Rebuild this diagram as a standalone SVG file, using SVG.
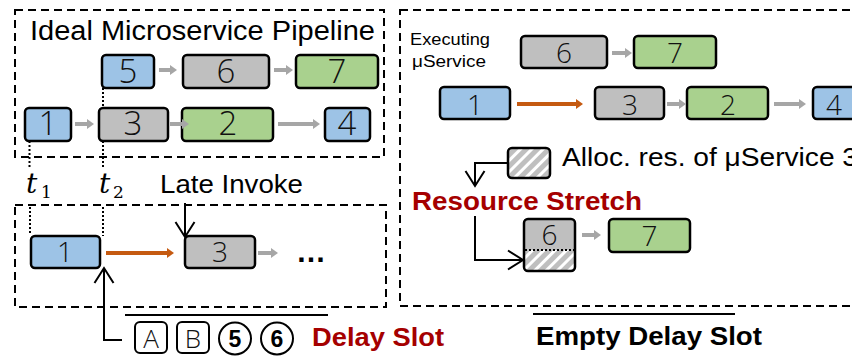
<svg xmlns="http://www.w3.org/2000/svg" width="852" height="358" viewBox="0 0 852 358">
<style>
.dash{fill:none;stroke:#000;stroke-width:2;stroke-dasharray:8 5}
.dot{fill:none;stroke:#000;stroke-width:2;stroke-dasharray:2 2}
.nb{stroke:#000;stroke-width:2.5}
.blue{fill:#9DC3E6}
.gray{fill:#BFBFBF}
.green{fill:#A9D18E}
.num{font-family:"Open Sans","Liberation Sans",sans-serif;font-weight:300;fill:#111;text-anchor:middle}
.n30{font-size:33px}
.n27{font-size:28px}
.ga{stroke:#A6A6A6;stroke-width:4;fill:none;marker-end:url(#gh)}
.oa{stroke:#C55A11;stroke-width:4;fill:none;marker-end:url(#oh)}
.ka{stroke:#000;stroke-width:2;fill:none;marker-end:url(#ch)}
.t{font-family:"Liberation Sans",Arial,sans-serif;fill:#000}
.red{fill:#A50000;font-weight:bold}
.math{font-family:"DejaVu Serif","Liberation Serif",serif;fill:#000}
</style>
<defs>
<marker id="gh" markerUnits="userSpaceOnUse" markerWidth="8" markerHeight="11" refX="0" refY="5" orient="auto" viewBox="0 0 8 10">
<path d="M0,0 L7,5 L0,10 z" fill="#A6A6A6"/>
</marker>
<marker id="oh" markerUnits="userSpaceOnUse" markerWidth="8" markerHeight="11" refX="0" refY="5" orient="auto" viewBox="0 0 8 10">
<path d="M0,0 L7,5 L0,10 z" fill="#C55A11"/>
</marker>
<marker id="ch" markerUnits="userSpaceOnUse" markerWidth="20" markerHeight="24" refX="0" refY="0" orient="auto" viewBox="-17 -12 20 24" style="overflow:visible">
<path d="M-15,-9.5 L0,0 L-15,9.5" fill="none" stroke="#000" stroke-width="2"/>
</marker>
<pattern id="hatch" patternUnits="userSpaceOnUse" width="8" height="8" patternTransform="rotate(45)">
<rect width="8" height="8" fill="#BFBFBF"/>
<rect x="0" y="0" width="3" height="8" fill="#fff"/>
</pattern>
</defs>

<!-- containers -->
<g id="boxes">
<rect class="dash" x="15" y="10" width="369" height="147"/>
<rect class="dash" x="15" y="205" width="371" height="102"/>
<rect class="dash" x="400" y="10" width="480" height="296"/>
</g>

<g id="labels">
<text class="t" x="30" y="40" font-size="27" textLength="345" lengthAdjust="spacingAndGlyphs">Ideal Microservice Pipeline</text>
<text class="t" x="160" y="193" font-size="25" textLength="143" lengthAdjust="spacingAndGlyphs">Late Invoke</text>
<text class="math" x="26" y="193" font-size="28" style="font-style:italic">t</text>
<text class="math" x="41" y="198" font-size="17">1</text>
<text class="math" x="99" y="193" font-size="28" style="font-style:italic">t</text>
<text class="math" x="113" y="198" font-size="17">2</text>
<text class="t" x="410" y="45" font-size="16" textLength="80" lengthAdjust="spacingAndGlyphs">Executing</text>
<text class="t" x="412" y="67" font-size="16" textLength="74" lengthAdjust="spacingAndGlyphs">μService</text>
<text class="t" x="562" y="166" font-size="26" textLength="296" lengthAdjust="spacingAndGlyphs">Alloc. res. of μService 3</text>
<text class="t red" x="412" y="210" font-size="26" textLength="230" lengthAdjust="spacingAndGlyphs">Resource Stretch</text>
<text class="t red" x="312" y="346" font-size="26" textLength="132" lengthAdjust="spacingAndGlyphs">Delay Slot</text>
<text class="t" x="536" y="345" font-size="26" font-weight="bold" textLength="226" lengthAdjust="spacingAndGlyphs">Empty Delay Slot</text>
<text class="t" x="296" y="262" font-size="30" font-weight="bold">…</text>
</g>

<g id="legend">
<line x1="125" y1="315" x2="328" y2="315" stroke="#000" stroke-width="2"/>
<line x1="533" y1="314" x2="735" y2="314" stroke="#000" stroke-width="2"/>
<rect x="135" y="322" width="32" height="31" rx="5" fill="#fff" stroke="#000" stroke-width="2"/>
<text class="num" x="151" y="348" font-size="26">A</text>
<rect x="177" y="322" width="32" height="31" rx="5" fill="#fff" stroke="#000" stroke-width="2"/>
<text class="num" x="193" y="348" font-size="26">B</text>
<circle cx="235" cy="338.5" r="16" fill="#fff" stroke="#000" stroke-width="2"/>
<text class="t" x="235" y="347" font-size="23" font-weight="bold" text-anchor="middle">5</text>
<circle cx="277" cy="338.5" r="16" fill="#fff" stroke="#000" stroke-width="2"/>
<text class="t" x="277" y="347" font-size="23" font-weight="bold" text-anchor="middle">6</text>
</g>

<!-- top-left ideal pipeline nodes -->
<g id="tl5"><rect class="nb blue" x="102" y="55" width="52" height="33" rx="4"/><text class="num n30" x="128" y="83">5</text></g>
<g id="tl6"><rect class="nb gray" x="183" y="55" width="86" height="33" rx="4"/><text class="num n30" x="226" y="83">6</text></g>
<g id="tl7"><rect class="nb green" x="296" y="55" width="82" height="33" rx="4"/><text class="num n30" x="337" y="83">7</text></g>
<g id="tl1"><rect class="nb blue" x="25" y="108" width="46" height="33" rx="4"/><text class="num n30" x="48" y="135">1</text></g>
<g id="tl3"><rect class="nb gray" x="99" y="108" width="69" height="33" rx="4"/><text class="num n30" x="133" y="135">3</text></g>
<g id="tl2"><rect class="nb green" x="182" y="108" width="91" height="33" rx="4"/><text class="num n30" x="228" y="135">2</text></g>
<g id="tl4"><rect class="nb blue" x="325" y="108" width="45" height="33" rx="4"/><text class="num n30" x="347" y="135">4</text></g>

<!-- bottom-left nodes -->
<g id="bl1"><rect class="nb blue" x="31" y="236" width="69" height="32" rx="4"/><text class="num n27" x="65" y="262">1</text></g>
<g id="bl3"><rect class="nb gray" x="185" y="236" width="70" height="32" rx="4"/><text class="num n27" x="220" y="262">3</text></g>

<!-- right nodes -->
<g id="r6"><rect class="nb gray" x="521" y="36" width="86" height="32" rx="4"/><text class="num n27" x="564" y="63">6</text></g>
<g id="r7"><rect class="nb green" x="634" y="36" width="82" height="32" rx="4"/><text class="num n27" x="675" y="63">7</text></g>
<g id="r1"><rect class="nb blue" x="440" y="87" width="70" height="32" rx="4"/><text class="num n27" x="475" y="115">1</text></g>
<g id="r3"><rect class="nb gray" x="595" y="87" width="69" height="32" rx="4"/><text class="num n27" x="630" y="115">3</text></g>
<g id="r2"><rect class="nb green" x="687" y="87" width="81" height="32" rx="4"/><text class="num n27" x="728" y="115">2</text></g>
<g id="r4"><rect class="nb blue" x="813" y="87" width="60" height="32" rx="4"/><text class="num n27" x="834" y="115">4</text></g>
<g id="alloc"><rect x="508" y="148" width="42" height="30" rx="4" fill="url(#hatch)" stroke="#000" stroke-width="2.5"/></g>
<g id="s6">
<rect x="524" y="219" width="51" height="52" rx="4" fill="#BFBFBF"/>
<rect x="525" y="250" width="49" height="20" fill="url(#hatch)"/>
<line class="dot" x1="525" y1="250" x2="574" y2="250"/>
<rect x="524" y="219" width="51" height="52" rx="4" fill="none" stroke="#000" stroke-width="2.5"/>
<text class="num" x="549.5" y="245" font-size="28">6</text>
</g>
<g id="s7"><rect class="nb green" x="609" y="219" width="81" height="33" rx="4"/><text class="num n27" x="649.5" y="246">7</text></g>

<!-- connectors -->
<g id="connectors">
<line class="ga" x1="159" y1="70" x2="170" y2="70"/>
<line class="ga" x1="274" y1="70" x2="286" y2="70"/>
<line class="ga" x1="75" y1="124" x2="87" y2="124"/>
<line class="ga" x1="170" y1="124" x2="182" y2="124"/>
<line class="ga" x1="278" y1="124" x2="313" y2="124"/>
<line class="dot" x1="103" y1="88" x2="103" y2="108"/>
<line class="dot" x1="29.5" y1="141" x2="29.5" y2="168"/>
<line class="dot" x1="103" y1="141" x2="103" y2="168"/>
<line class="dot" x1="30" y1="207" x2="30" y2="234"/>
<line class="dot" x1="103" y1="207" x2="103" y2="236"/>
<line class="oa" x1="106" y1="253" x2="167" y2="253"/>
<line class="ga" x1="258" y1="253" x2="271" y2="253"/>
<line class="ka" x1="185" y1="203" x2="185" y2="237"/>
<path class="ka" d="M122,340 H104 V268"/>
<line class="ga" x1="612" y1="53" x2="625" y2="53"/>
<line class="oa" x1="517" y1="104" x2="576" y2="104"/>
<line class="ga" x1="667" y1="104" x2="679" y2="104"/>
<line class="ga" x1="774" y1="104" x2="799" y2="104"/>
<line class="ga" x1="582" y1="235" x2="594" y2="235"/>
<path class="ka" d="M508,163 H475 V186"/>
<path class="ka" d="M475,216 V260 H523"/>
</g>
</svg>
